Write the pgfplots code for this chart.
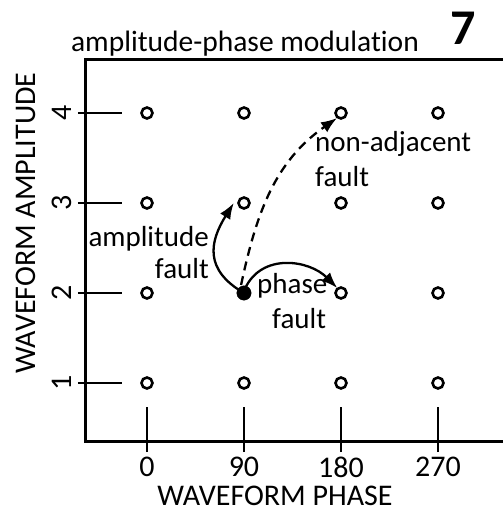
\documentclass[border=0pt]{standalone}
\usepackage{pgfplots}
\pgfplotsset{compat=1.18}
\usepackage{fontspec}
\setmainfont{Carlito}[Ligatures=NoCommon]
\usetikzlibrary{arrows.meta}

\begin{document}
\begin{tikzpicture}[font=\fontsize{30}{35}\selectfont]
\begin{axis}[
  at={(85pt,71pt)}, anchor=south west,
  scale only axis, width=425pt, height=381pt,
  xmin=-57.5, xmax=336.8, ymin=0.3556, ymax=4.589,
  xtick={0,90,180,270}, ytick={1,2,3,4},
  major tick length=0pt,
  axis line style={line width=3pt},
  /pgf/number format/assume math mode=true,
  tick label style={font=\fontsize{30}{35}\selectfont, inner sep=0pt},
  xticklabel style={anchor=north},
  yticklabel style={rotate=90, anchor=south},
  xticklabel shift=16pt,
  yticklabel shift=13pt,
  clip=false,
]
% data points
\addplot[only marks, mark=o, mark size=5.5pt, mark options={line width=2.6pt}] coordinates {
  (0,1) (90,1) (180,1) (270,1)
  (0,2) (180,2) (270,2)
  (0,3) (90,3) (180,3) (270,3)
  (0,4) (90,4) (180,4) (270,4)
};
\addplot[only marks, mark=*, mark size=7.2pt] coordinates {(90,2)};

% tick lines
\draw[line width=2.5pt] (axis cs:-64,1) -- (axis cs:-23.2,1);
\draw[line width=2.5pt] (axis cs:-64,2) -- (axis cs:-23.2,2);
\draw[line width=2.5pt] (axis cs:-64,3) -- (axis cs:-23.2,3);
\draw[line width=2.5pt] (axis cs:-64,4) -- (axis cs:-23.2,4);
\draw[line width=2.5pt] (axis cs:0,0.233) -- (axis cs:0,0.733);
\draw[line width=2.5pt] (axis cs:90,0.233) -- (axis cs:90,0.733);
\draw[line width=2.5pt] (axis cs:180,0.233) -- (axis cs:180,0.733);
\draw[line width=2.5pt] (axis cs:270,0.233) -- (axis cs:270,0.733);

% arrows
\draw[line width=2.3pt, -{Latex[length=16pt,width=12pt]}]
  (axis cs:90,2) to[out=150,in=238,looseness=1.3] (axis cs:80.5,3.0);
\draw[line width=2.3pt, -{Latex[length=16pt,width=12pt]}]
  (axis cs:91,2.05) to[out=65,in=135,looseness=1.1] (axis cs:176.5,2.056);
\draw[line width=2.3pt, dash pattern=on 9pt off 6pt, -{Latex[length=16pt,width=12pt]}]
  (axis cs:87.3,2.089) to[out=78,in=215] (axis cs:176.3,3.944);

% annotations
\begin{scope}[font=\fontsize{29}{34}\selectfont]
\node[anchor=base east, inner sep=0pt] at (axis cs:57.5,2.522) {amplitude};
\node[anchor=base east, inner sep=0pt] at (axis cs:57.5,2.156) {fault};
\node[anchor=base west, inner sep=0pt] at (axis cs:102.1,2.0) {phase};
\node[anchor=base west, inner sep=0pt] at (axis cs:116,1.611) {fault};
\node[anchor=base west, inner sep=0pt] at (axis cs:155.9,3.567) {non-adjacent};
\node[anchor=base west, inner sep=0pt] at (axis cs:155.9,3.178) {fault};
\end{scope}
\end{axis}

% titles and labels
\node[anchor=base, inner sep=0pt, font=\fontsize{29.5}{35}\selectfont] at (245pt,460pt) {amplitude-phase modulation};
\node[anchor=base, inner sep=0pt, font=\fontsize{50}{60}\selectfont\bfseries] at (463.5pt,467pt) {7};
\node[anchor=base, inner sep=0pt] at (275pt,6pt) {WAVEFORM PHASE};
\node[anchor=base, inner sep=0pt, rotate=90] at (35pt,289pt) {WAVEFORM AMPLITUDE};

\pgfresetboundingbox
\useasboundingbox (0pt,0pt) rectangle (503pt,512pt);
\end{tikzpicture}
\end{document}
